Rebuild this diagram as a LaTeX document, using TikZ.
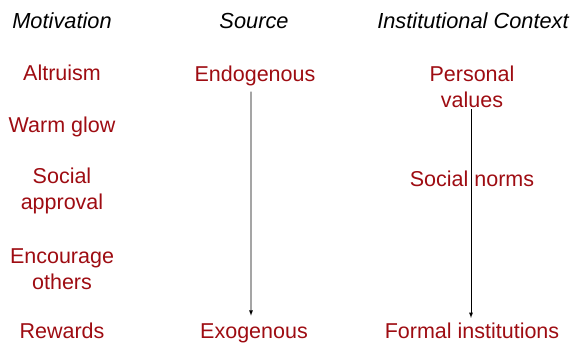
\documentclass[tikz,border=0pt]{standalone}
\usepackage{fontspec}
\setmainfont{Liberation Sans}
\usepackage{tikz}
\definecolor{itemred}{RGB}{158,12,18}

\begin{document}
\begin{tikzpicture}[x=1bp, y=1bp,
    head/.style={font=\fontsize{21.8bp}{26bp}\selectfont\itshape, inner sep=0pt},
    item/.style={font=\fontsize{21.5bp}{26bp}\selectfont, text=itemred, align=center, inner sep=0pt},
    flow/.style={->, >=latex, line width=0.8bp}]
                            \useasboundingbox (0, 0) rectangle (584, -344);
                            % column headings
                            \node[head] (motiv) at (62, -21) {Motivation};
                            \node[head] (src) at (254, -21) {Source};
                            \node[head] (ctx) at (473, -21) {Institutional Context};
                            % motivations
                            \node[item] (altru) at (62, -73) {Altruism};
                            \node[item] (warm) at (62, -127) {Warm glow};
                            \node[item] (appr) at (62, -191) {Social\\approval};
                            \node[item] (enc) at (62, -269) {Encourage\\others};
                            \node[item] (rew) at (62, -331) {Rewards};
                            % sources
                            \node[item] (endo) at (255, -75.5) {Endogenous};
                            \node[item] (exo) at (254, -333.5) {Exogenous};
                            % institutional context
                            \node[item] (pers) at (472, -87) {Personal\\values};
                            \node[item] (norms) at (472, -179) {Social norms};
                            \node[item] (formal) at (472, -331) {Formal institutions};
                            % arrows
                            \draw[flow] ([xshift=-4bp, yshift=-6bp]endo.south) -- ([xshift=-3bp, yshift=8bp]exo.north);
                            \draw[flow] ([xshift=-1bp, yshift=-1bp]pers.south) -- ([xshift=-1bp, yshift=5bp]formal.north);
                        \end{tikzpicture}
\end{document}
